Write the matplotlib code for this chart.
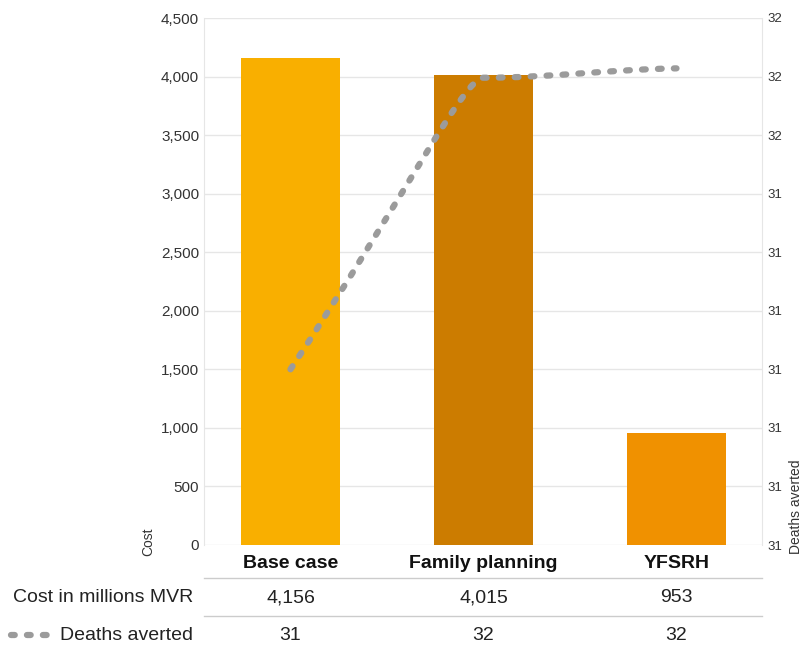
import numpy as np
import matplotlib
matplotlib.use("Agg")
import matplotlib.pyplot as plt
from matplotlib.path import Path
from matplotlib.patches import PathPatch
from matplotlib.lines import Line2D
from matplotlib.transforms import blended_transform_factory

plt.rcParams['font.family'] = ['Liberation Sans', 'DejaVu Sans']

categories = ["Base case", "Family planning", "YFSRH"]
cost = [4156, 4015, 953]
deaths = [31.30, 31.549, 31.557]
cost_labels = ["4,156", "4,015", "953"]
deaths_labels = ["31", "32", "32"]
bar_colors = ["#F9AF00", "#CC7C00", "#F09100"]
left_ticks = [0, 500, 1000, 1500, 2000, 2500, 3000, 3500, 4000, 4500]
left_tick_labels = ["0", "500", "1,000", "1,500", "2,000", "2,500", "3,000", "3,500", "4,000", "4,500"]
right_tick_labels = ["31", "31", "31", "31", "31", "31", "31", "32", "32", "32"]
right_min, right_max = 31.15, 31.60

W, H = 804, 650
fig = plt.figure(figsize=(W / 100, H / 100), dpi=100)
L, R, T, B = 204, 762, 18, 545
ax = fig.add_axes([L / W, (H - B) / H, (R - L) / W, (B - T) / H])

x = np.arange(len(categories))
ax.bar(x, cost, width=0.515, color=bar_colors, zorder=2)
ax.set_xlim(-0.448, 2.443)
ax.set_ylim(0, 4500)
ax.set_yticks(left_ticks)
ax.set_yticklabels(left_tick_labels)
ax.set_xticks([])
ax.grid(axis='y', color='#e6e6e6', lw=1, zorder=0)
for s in ['top', 'bottom']:
    ax.spines[s].set_visible(False)
for s in ['left', 'right']:
    ax.spines[s].set_color('#e6e6e6')
ax.tick_params(axis='y', length=0, labelsize=11, labelcolor='#333333', pad=3.5)

ax2 = ax.twinx()
ax2.set_ylim(right_min, right_max)
rt = np.linspace(right_min, right_max, len(right_tick_labels))
ax2.set_yticks(rt)
ax2.set_yticklabels(right_tick_labels)
ax2.tick_params(axis='y', length=0, labelsize=9.5, labelcolor='#333333', pad=4)
for s in ax2.spines.values():
    s.set_visible(False)

# smooth curve through the data points (cubic Bezier segments, tangents chosen for look)
xs = x.astype(float)
ys = deaths
verts = [(xs[0], ys[0])]
codes = [Path.MOVETO]
verts += [(xs[0] + 0.6 * (xs[1] - xs[0]), ys[0] + 0.6 * (ys[1] - ys[0])),
          (xs[1] - 0.1, ys[1]), (xs[1], ys[1])]
codes += [Path.CURVE4] * 3
verts += [(xs[1] + 0.35, ys[1]), (xs[2] - 0.35, ys[2] - 0.001), (xs[2], ys[2])]
codes += [Path.CURVE4] * 3
dot_style = (0, (0.6, 1.95))
p = PathPatch(Path(verts, codes), fill=False, edgecolor='#9b9b9b',
              lw=4.5, linestyle=dot_style, capstyle='round', zorder=3)
ax2.add_patch(p)

# Axis titles
fig.text(148 / W, 1 - 556 / H, "Cost", rotation=90, ha='center', va='bottom', fontsize=10, color='#333333')
fig.text(796 / W, 1 - 554 / H, "Deaths averted", rotation=90, ha='center', va='bottom', fontsize=10, color='#333333')

# Table below
tr = blended_transform_factory(ax.transData, fig.transFigure)
def fy(py):
    return 1 - py / H
for i, c in enumerate(categories):
    ax.text(x[i], fy(563), c, transform=tr, ha='center', va='center', fontsize=14,
            fontweight='bold', color='#111111', clip_on=False)
    ax.text(x[i], fy(598), cost_labels[i], transform=tr, ha='center', va='center', fontsize=14,
            color='#222222', clip_on=False)
    ax.text(x[i], fy(635), deaths_labels[i], transform=tr, ha='center', va='center', fontsize=14,
            color='#222222', clip_on=False)
for py in (578, 616):
    fig.add_artist(Line2D([L / W, R / W], [fy(py), fy(py)], color='#cccccc', lw=1))
fig.text(193 / W, fy(598), "Cost in millions MVR", ha='right', va='center', fontsize=14, color='#222222')
fig.text(193 / W, fy(635), "Deaths averted", ha='right', va='center', fontsize=14, color='#222222')
fig.add_artist(Line2D([11 / W, 50 / W], [fy(635), fy(635)], color='#9b9b9b', lw=4.5,
                      linestyle=dot_style, dash_capstyle='round'))

fig.savefig("out.png", dpi=100)
